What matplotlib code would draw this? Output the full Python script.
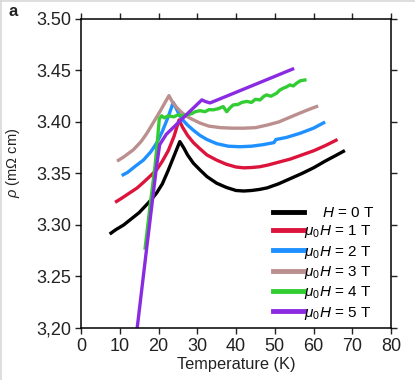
import matplotlib
matplotlib.use("Agg")
import matplotlib.pyplot as plt
from matplotlib.lines import Line2D

plt.rcParams['font.family'] = ['Liberation Sans', 'DejaVu Sans']
plt.rcParams['mathtext.fontset'] = 'custom'
plt.rcParams['mathtext.rm'] = 'Liberation Sans'
plt.rcParams['mathtext.it'] = 'Liberation Sans:italic'
plt.rcParams['mathtext.bf'] = 'Liberation Sans:bold'

# ---- data ----
T_0T = [7.4, 9.0, 11.0, 13.0, 15.0, 16.5, 18.0, 19.5, 21.0, 22.5, 24.0, 25.5, 26.5, 27.5, 29.0, 30.7,
        32.5, 35.0, 37.5, 40.0, 42.0, 44.0, 46.0, 48.0, 51.0, 54.0, 57.0, 60.0, 63.0, 66.0, 68.1]
R_0T = [3.2912, 3.2955, 3.300, 3.306, 3.312, 3.318, 3.324, 3.331, 3.340, 3.353, 3.367, 3.381, 3.375, 3.368,
        3.360, 3.3535, 3.347, 3.3406, 3.3365, 3.3335, 3.333, 3.3335, 3.3345, 3.336, 3.340, 3.345, 3.350,
        3.3555, 3.362, 3.368, 3.3723]

T_1T = [8.8, 10.5, 12.5, 14.5, 16.0, 18.0, 19.6, 21.0, 22.5, 24.0, 25.3, 26.2, 27.5, 29.0, 30.7, 32.5,
        35.0, 37.5, 40.0, 42.0, 44.0, 46.0, 48.0, 51.0, 54.0, 57.0, 60.0, 63.0, 66.2]
R_1T = [3.322, 3.326, 3.331, 3.336, 3.341, 3.348, 3.354, 3.362, 3.372, 3.386, 3.402, 3.395, 3.387, 3.380,
        3.374, 3.368, 3.363, 3.359, 3.3563, 3.3555, 3.3558, 3.3565, 3.358, 3.361, 3.364, 3.368, 3.372,
        3.377, 3.383]

T_2T = [10.5, 12.0, 14.0, 16.1, 18.0, 19.6, 21.0, 22.5, 23.8, 24.6, 25.5, 26.5, 27.5, 29.0, 30.7, 32.5,
        35.0, 38.0, 41.0, 44.0, 47.0, 49.8, 50.3, 53.0, 56.5, 60.0, 63.0]
R_2T = [3.348, 3.351, 3.357, 3.363, 3.371, 3.380, 3.391, 3.405, 3.419, 3.413, 3.406, 3.401, 3.397, 3.392,
        3.387, 3.383, 3.379, 3.3765, 3.376, 3.3765, 3.378, 3.380, 3.383, 3.385, 3.389, 3.394, 3.400]

T_3T = [9.3, 11.0, 13.5, 15.5, 17.0, 18.6, 20.5, 21.7, 22.7, 23.5, 24.5, 25.5, 27.0, 28.5, 30.7, 33.0,
        36.0, 39.3, 42.0, 45.0, 48.0, 51.0, 54.8, 58.0, 61.2]
R_3T = [3.362, 3.366, 3.373, 3.381, 3.389, 3.399, 3.411, 3.419, 3.4256, 3.420, 3.415, 3.411, 3.406, 3.403,
        3.399, 3.396, 3.3945, 3.394, 3.394, 3.3945, 3.397, 3.400, 3.406, 3.411, 3.4156]

T_4T = [16.5, 17.8, 19.1, 19.8, 20.2, 20.8, 21.5, 22.5, 24.0, 25.0, 26.0, 27.3, 28.5, 29.5, 30.7,
        32.0, 33.0, 34.1, 35.5, 36.7, 37.6, 38.5, 39.3, 40.5, 41.5, 42.8, 44.0, 45.0, 46.2, 47.2,
        47.9, 49.0, 50.5, 51.3, 52.2, 53.0, 53.9, 54.8, 55.6, 56.6, 57.8, 58.2]
R_4T = [3.276, 3.318, 3.357, 3.385, 3.403, 3.406, 3.404, 3.406, 3.405, 3.407, 3.406, 3.407, 3.408, 3.410, 3.411,
        3.410, 3.412, 3.4118, 3.413, 3.415, 3.410, 3.414, 3.4166, 3.417, 3.419, 3.420, 3.419, 3.422, 3.4214, 3.425,
        3.4263, 3.425, 3.428, 3.431, 3.4328, 3.434, 3.436, 3.435, 3.4376, 3.440, 3.4408, 3.441]

T_5T = [14.5, 16.9, 19.5, 20.3, 22.0, 25.0, 28.0, 30.5, 31.2, 32.0, 33.3, 44.0, 55.0]
R_5T = [3.200, 3.276, 3.357, 3.378, 3.388, 3.399, 3.410, 3.419, 3.4215, 3.420, 3.4185, 3.435, 3.452]

labels = [r'$\quad\;\,H$ = 0 T', r'$\mu_0H$ = 1 T', r'$\mu_0H$ = 2 T',
          r'$\mu_0H$ = 3 T', r'$\mu_0H$ = 4 T', r'$\mu_0H$ = 5 T']
colors = ['#000000', '#dc143c', '#1e90ff', '#bc8f8f', '#32cd32', '#8a2be2']

x_ticks = [0, 10, 20, 30, 40, 50, 60, 70, 80]
y_ticks = [3.20, 3.25, 3.30, 3.35, 3.40, 3.45, 3.50]
y_ticklabels = ['3,20', '3.25', '3.30', '3.35', '3.40', '3.45', '3.50']

series = [(T_0T, R_0T), (T_1T, R_1T), (T_2T, R_2T), (T_3T, R_3T), (T_4T, R_4T), (T_5T, R_5T)]

fig = plt.figure(figsize=(4.15, 3.80), dpi=100)
ax = fig.add_axes([81/415, 1-328/380, 310/415, 309/380])

for (t, r), c, lab in zip(series, colors, labels):
    ax.plot(t, r, color=c, lw=2.4, label=lab, solid_capstyle='butt', solid_joinstyle='round')

ax.set_xlim(0, 80)
ax.set_ylim(3.20, 3.50)
ax.set_xticks(x_ticks)
ax.set_yticks(y_ticks)
ax.set_yticklabels(y_ticklabels)
ax.tick_params(direction='out', length=4, width=1, labelsize=13, top=True, right=True,
               labeltop=False, labelright=False, pad=3, colors='#222222')
for s in ax.spines.values():
    s.set_linewidth(1.1)
ax.set_xlabel('Temperature (K)', fontsize=11.8, labelpad=2, color='#222222')
ax.set_ylabel(r'$\rho$ (m$\Omega$ cm)', fontsize=10.5, color='#222222')
ax.yaxis.set_label_coords(-0.19, 0.535)

handles = [Line2D([0], [0], color=c, lw=3.5) for c in colors]
leg = ax.legend(handles, labels, loc='upper left', bbox_to_anchor=(0.6, 0.415),
                frameon=False, fontsize=11, handlelength=2.0, handletextpad=0.0,
                labelspacing=0.22, borderaxespad=0)

fig.text(8/415, 1-16/380, 'a', fontsize=12, fontweight='bold', color='#222222')
# light frame of the picture
fig.add_artist(Line2D([0.5/415, 0.5/415], [0, 1], color='#d8d8d8', lw=1.2, transform=fig.transFigure))
fig.add_artist(Line2D([0, 1], [1-0.5/380, 1-0.5/380], color='#d8d8d8', lw=1.2, transform=fig.transFigure))

fig.savefig('out.png', dpi=100)
